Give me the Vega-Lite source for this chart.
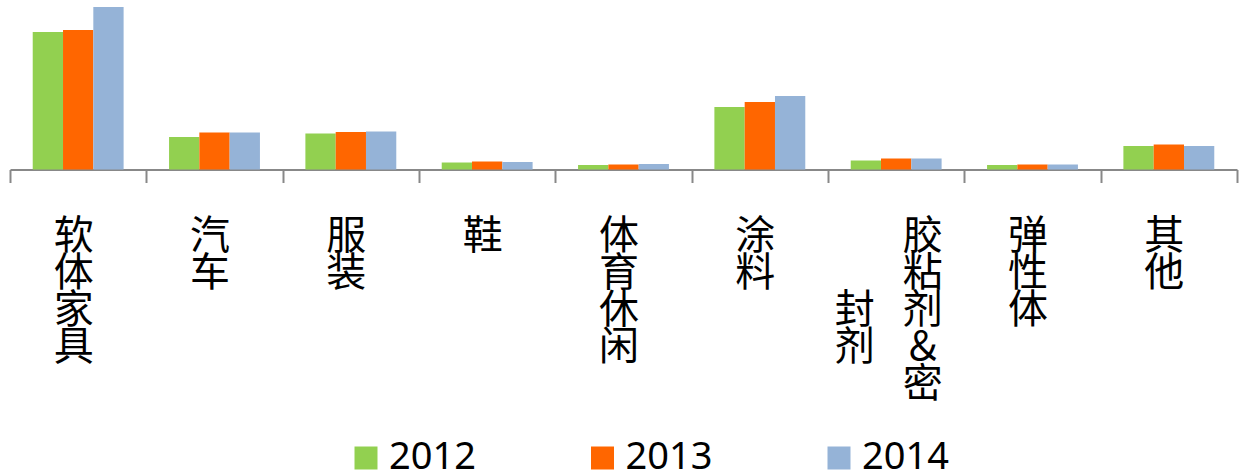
{
  "$schema": "https://vega.github.io/schema/vega-lite/v6.json",
  "width": 1227,
  "height": 162.5,
  "autosize": {"type": "none"},
  "padding": {"left": 10, "top": 7, "right": 11, "bottom": 302.5},
  "background": "white",
  "config": {"view": {"stroke": null}},
  "data": {
    "values": [
      {"category": "软体家具", "year": "2012", "value": 137.5},
      {"category": "软体家具", "year": "2013", "value": 139.5},
      {"category": "软体家具", "year": "2014", "value": 162.5},
      {"category": "汽车", "year": "2012", "value": 32.5},
      {"category": "汽车", "year": "2013", "value": 37},
      {"category": "汽车", "year": "2014", "value": 37},
      {"category": "服装", "year": "2012", "value": 36},
      {"category": "服装", "year": "2013", "value": 37.5},
      {"category": "服装", "year": "2014", "value": 38},
      {"category": "鞋", "year": "2012", "value": 7},
      {"category": "鞋", "year": "2013", "value": 8},
      {"category": "鞋", "year": "2014", "value": 7.5},
      {"category": "体育休闲", "year": "2012", "value": 4.5},
      {"category": "体育休闲", "year": "2013", "value": 5},
      {"category": "体育休闲", "year": "2014", "value": 5.5},
      {"category": "涂料", "year": "2012", "value": 62.5},
      {"category": "涂料", "year": "2013", "value": 67.5},
      {"category": "涂料", "year": "2014", "value": 73.5},
      {"category": "胶粘剂&密封剂", "year": "2012", "value": 9},
      {"category": "胶粘剂&密封剂", "year": "2013", "value": 11},
      {"category": "胶粘剂&密封剂", "year": "2014", "value": 11},
      {"category": "弹性体", "year": "2012", "value": 4.5},
      {"category": "弹性体", "year": "2013", "value": 5},
      {"category": "弹性体", "year": "2014", "value": 5},
      {"category": "其他", "year": "2012", "value": 23.5},
      {"category": "其他", "year": "2013", "value": 25},
      {"category": "其他", "year": "2014", "value": 23.5}
    ]
  },
  "mark": {"type": "bar"},
  "encoding": {
    "x": {
      "field": "category",
      "type": "nominal",
      "sort": ["软体家具", "汽车", "服装", "鞋", "体育休闲", "涂料", "胶粘剂&密封剂", "弹性体", "其他"],
      "scale": {"paddingInner": 0, "paddingOuter": 0},
      "axis": {
        "title": null,
        "labelAngle": 0,
        "labelFont": "Noto Sans CJK SC",
        "labelFontSize": 40,
        "labelLineHeight": 37,
        "labelColor": "black",
        "labelPadding": 34,
        "labelBaseline": "top",
        "labelAlign": {"condition": {"test": "datum.value == '胶粘剂&密封剂'", "value": "right"}, "value": "center"},
        "labelOffset": {"condition": {"test": "datum.value == '胶粘剂&密封剂'", "value": 46}, "value": -5},
        "labelOverlap": false,
        "labelLimit": 0,
        "domainColor": "#888888",
        "domainWidth": 2,
        "tickColor": "#888888",
        "tickWidth": 2,
        "tickSize": 13,
        "tickBand": "extent",
        "labelExpr": "!isValid(datum.value) ? '' : datum.value == '胶粘剂&密封剂' ? ['胶', '粘', '封\u2002\u2009剂', '剂\u2002\u2009＆', '密'] : split(datum.value, '')"
      }
    },
    "xOffset": {
      "field": "year",
      "type": "nominal",
      "scale": {"paddingInner": 0, "paddingOuter": 0.75}
    },
    "y": {
      "field": "value",
      "type": "quantitative",
      "scale": {"domain": [0, 162.5], "nice": false},
      "axis": null
    },
    "color": {
      "field": "year",
      "type": "nominal",
      "scale": {"domain": ["2012", "2013", "2014"], "range": ["#92D050", "#FF6600", "#95B3D7"]},
      "legend": {
        "title": null,
        "orient": "none",
        "legendX": 337,
        "legendY": 432,
        "direction": "horizontal",
        "symbolType": "square",
        "symbolSize": 529,
        "symbolStrokeWidth": 0,
        "labelFont": "Noto Sans",
        "labelFontSize": 38,
        "labelColor": "black",
        "labelOffset": 4,
        "columnPadding": 107.5,
        "padding": 0
      }
    }
  }
}
